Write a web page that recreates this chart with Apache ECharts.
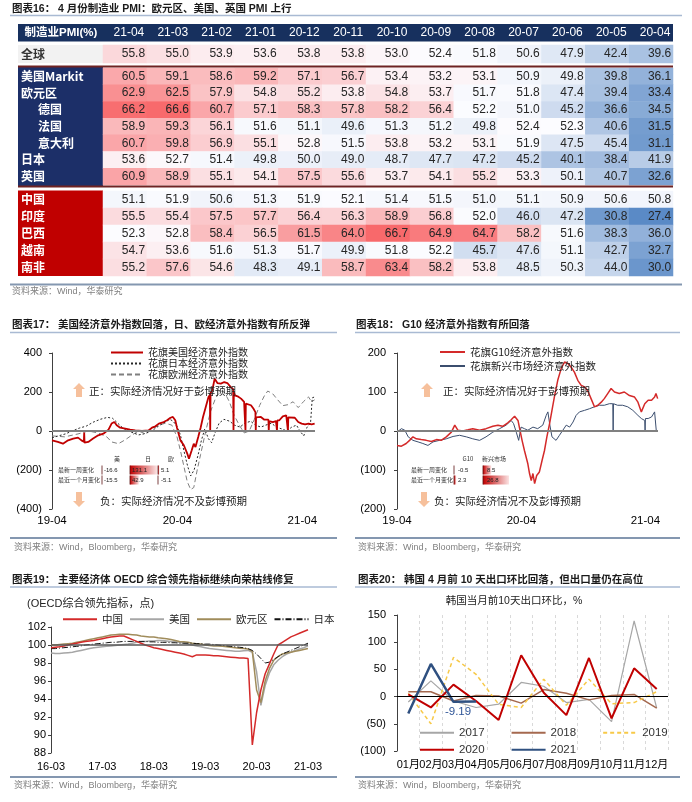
<!DOCTYPE html>
<html><head><meta charset="utf-8">
<script src="https://cdn.jsdelivr.net/npm/echarts/dist/echarts.min.js"></script>
<style>html,body{margin:0;padding:0;background:#fff}#c{width:692px;height:802px}</style>
</head><body><div id="c"></div>
<script>
// ---------------- DATA ----------------
const pmiCols = ['21-04','21-03','21-02','21-01','20-12','20-11','20-10','20-09','20-08','20-07','20-06','20-05','20-04'];
const pmiRowsGlobal = ['全球'];
const pmiRowsDM = ['美国Markit','欧元区','德国','法国','意大利','日本','英国'];
const pmiRowsEM = ['中国','印度','巴西','越南','南非'];
const pmiGlobal = [[55.8,55.0,53.9,53.6,53.8,53.8,53.0,52.4,51.8,50.6,47.9,42.4,39.6]];
const pmiDM = [
 [60.5,59.1,58.6,59.2,57.1,56.7,53.4,53.2,53.1,50.9,49.8,39.8,36.1],
 [62.9,62.5,57.9,54.8,55.2,53.8,54.8,53.7,51.7,51.8,47.4,39.4,33.4],
 [66.2,66.6,60.7,57.1,58.3,57.8,58.2,56.4,52.2,51.0,45.2,36.6,34.5],
 [58.9,59.3,56.1,51.6,51.1,49.6,51.3,51.2,49.8,52.4,52.3,40.6,31.5],
 [60.7,59.8,56.9,55.1,52.8,51.5,53.8,53.2,53.1,51.9,47.5,45.4,31.1],
 [53.6,52.7,51.4,49.8,50.0,49.0,48.7,47.7,47.2,45.2,40.1,38.4,41.9],
 [60.9,58.9,55.1,54.1,57.5,55.6,53.7,54.1,55.2,53.3,50.1,40.7,32.6]];
const pmiEM = [
 [51.1,51.9,50.6,51.3,51.9,52.1,51.4,51.5,51.0,51.1,50.9,50.6,50.8],
 [55.5,55.4,57.5,57.7,56.4,56.3,58.9,56.8,52.0,46.0,47.2,30.8,27.4],
 [52.3,52.8,58.4,56.5,61.5,64.0,66.7,64.9,64.7,58.2,51.6,38.3,36.0],
 [54.7,53.6,51.6,51.3,51.7,49.9,51.8,52.2,45.7,47.6,51.1,42.7,32.7],
 [55.2,57.6,54.6,48.3,49.1,58.7,63.4,58.2,53.8,48.5,50.3,44.0,30.0]];

// Fig 17: Citi economic surprise indices
const cesiUS = [['2019-04-01',-48],['2019-04-18',-56],['2019-05-03',-65],['2019-05-18',-48],['2019-06-02',-39],['2019-06-16',-34],['2019-06-26',-48],['2019-07-03',-55],['2019-07-04',-8],['2019-07-05',-60],['2019-07-16',-56],['2019-07-30',-39],['2019-08-14',-22],['2019-08-29',-14],['2019-09-13',7],['2019-09-22',38],['2019-09-30',46],['2019-10-07',29],['2019-10-17',17],['2019-11-01',12],['2019-11-15',7],['2019-11-30',3],['2019-12-20',0],['2020-01-08',3],['2020-01-18',17],['2020-01-28',24],['2020-02-07',38],['2020-02-21',46],['2020-03-02',55],['2020-03-12',68],['2020-03-19',72],['2020-03-26',55],['2020-03-31',17],['2020-04-10',-48],['2020-04-20',-73],['2020-04-30',-116],['2020-05-05',-142],['2020-05-13',-99],['2020-05-19',-65],['2020-05-24',-82],['2020-06-01',-31],['2020-06-08',17],['2020-06-15',72],['2020-06-23',123],['2020-07-01',174],['2020-07-05',185],['2020-07-06',0],['2020-07-07',195],['2020-07-12',208],['2020-07-19',268],['2020-07-27',246],['2020-08-06',243],['2020-08-16',251],['2020-08-25',246],['2020-09-04',225],['2020-09-11',215],['2020-09-12',0],['2020-09-13',200],['2020-09-16',183],['2020-09-24',178],['2020-10-04',166],['2020-10-13',149],['2020-10-16',145],['2020-10-17',0],['2020-10-18',140],['2020-10-23',140],['2020-11-02',132],['2020-11-09',115],['2020-11-15',97],['2020-11-16',0],['2020-11-17',70],['2020-11-19',68],['2020-12-01',72],['2020-12-11',58],['2020-12-23',58],['2020-12-24',0],['2020-12-25',50],['2021-01-05',46],['2021-01-14',51],['2021-01-16',52],['2021-01-17',0],['2021-01-18',55],['2021-01-24',55],['2021-02-03',75],['2021-02-13',80],['2021-02-17',78],['2021-02-18',0],['2021-02-19',70],['2021-02-23',68],['2021-03-10',68],['2021-03-20',46],['2021-03-30',38],['2021-04-09',34],['2021-04-19',38],['2021-04-28',34],['2021-05-07',38]];
const cesiJP = [['2019-04-01',-35],['2019-04-20',-25],['2019-05-10',-15],['2019-05-30',0],['2019-06-20',15],['2019-07-10',25],['2019-07-30',45],['2019-08-20',60],['2019-09-10',70],['2019-09-25',65],['2019-10-10',40],['2019-10-25',15],['2019-11-10',0],['2019-11-25',-10],['2019-12-10',-20],['2019-12-25',-15],['2020-01-10',-5],['2020-01-25',10],['2020-02-10',30],['2020-02-25',45],['2020-03-10',60],['2020-03-20',50],['2020-04-01',20],['2020-04-10',-20],['2020-04-20',-100],['2020-05-01',-180],['2020-05-10',-230],['2020-05-20',-200],['2020-06-01',-120],['2020-06-10',-50],['2020-06-20',10],['2020-07-01',-40],['2020-07-10',-60],['2020-07-20',-10],['2020-08-01',40],['2020-08-15',60],['2020-09-01',50],['2020-09-15',30],['2020-10-01',20],['2020-10-15',40],['2020-11-01',50],['2020-11-15',30],['2020-12-01',20],['2020-12-15',30],['2021-01-01',40],['2021-01-15',20],['2021-02-01',10],['2021-02-15',0],['2021-03-01',20],['2021-03-15',30],['2021-03-25',0],['2021-04-05',-25],['2021-04-15',20],['2021-04-25',40],['2021-04-30',170],['2021-05-07',175]];
const cesiEU = [['2019-04-01',-25],['2019-05-08',-30],['2019-06-16',-15],['2019-07-16',0],['2019-08-14',-10],['2019-09-08',-30],['2019-09-22',-56],['2019-10-12',-65],['2019-11-01',-45],['2019-11-21',-20],['2019-12-10',0],['2019-12-30',-15],['2020-01-18',10],['2020-02-07',30],['2020-02-26',40],['2020-03-16',30],['2020-03-31',-30],['2020-04-10',-100],['2020-04-20',-180],['2020-04-30',-260],['2020-05-10',-300],['2020-05-19',-290],['2020-05-29',-200],['2020-06-08',-120],['2020-06-23',0],['2020-07-07',100],['2020-07-22',170],['2020-08-06',205],['2020-08-16',200],['2020-08-31',150],['2020-09-14',80],['2020-09-29',30],['2020-10-13',-10],['2020-10-28',0],['2020-11-12',60],['2020-11-27',130],['2020-12-11',180],['2020-12-21',205],['2021-01-05',190],['2021-01-19',160],['2021-02-03',130],['2021-02-18',135],['2021-03-05',150],['2021-03-20',120],['2021-04-04',150],['2021-04-19',175],['2021-04-28',150],['2021-05-07',160]];
const cesiTicks = ['2019-04-01','2020-04-01','2021-04-01'];
const inset17Head = ['美','日','欧'];
const inset17Rows = ['最新一周变化','最近一个月变化'];
const inset17Vals = [[-16.6,131.1,5.1],[-15.5,42.9,-5.1]];

// Fig 18
const cesiG10 = [['2019-04-01',-37],['2019-04-14',-39],['2019-04-28',-32],['2019-05-08',-24],['2019-05-18',-15],['2019-05-28',-20],['2019-06-11',-22],['2019-06-26',-24],['2019-07-11',-27],['2019-07-26',-22],['2019-08-09',-24],['2019-08-24',-15],['2019-09-08',-3],['2019-09-18',15],['2019-09-27',2],['2019-10-12',0],['2019-10-27',3],['2019-11-10',6],['2019-11-30',2],['2019-12-19',6],['2020-01-08',12],['2020-01-23',15],['2020-02-06',12],['2020-02-21',21],['2020-03-02',29],['2020-03-12',38],['2020-03-22',27],['2020-03-26',10],['2020-04-03',-24],['2020-04-10',-50],['2020-04-20',-84],['2020-04-25',-109],['2020-04-30',-127],['2020-05-05',-109],['2020-05-10',-135],['2020-05-16',-114],['2020-05-24',-105],['2020-06-01',-75],['2020-06-08',-50],['2020-06-15',-15],['2020-06-23',19],['2020-06-30',53],['2020-07-07',87],['2020-07-17',130],['2020-07-27',160],['2020-08-06',177],['2020-08-16',173],['2020-08-25',164],['2020-09-04',151],['2020-09-14',130],['2020-09-24',117],['2020-10-04',113],['2020-10-13',104],['2020-10-23',83],['2020-11-02',62],['2020-11-12',66],['2020-11-22',74],['2020-12-01',83],['2020-12-11',96],['2020-12-21',109],['2020-12-31',100],['2021-01-14',96],['2021-01-29',100],['2021-02-13',91],['2021-02-28',87],['2021-03-10',74],['2021-03-20',49],['2021-03-30',70],['2021-04-09',79],['2021-04-19',79],['2021-04-28',87],['2021-05-02',96],['2021-05-07',83]];
const cesiEM = [['2019-04-01',-3],['2019-04-14',6],['2019-04-24',2],['2019-05-04',-15],['2019-05-18',-24],['2019-06-02',-28],['2019-06-16',-32],['2019-07-01',-37],['2019-07-16',-28],['2019-08-04',-24],['2019-08-24',-20],['2019-09-13',-14],['2019-10-02',-11],['2019-10-22',-15],['2019-11-10',-20],['2019-11-30',-24],['2019-12-19',-15],['2020-01-08',-3],['2020-01-28',6],['2020-02-16',15],['2020-03-02',27],['2020-03-09',19],['2020-03-17',-3],['2020-03-24',-24],['2020-03-31',10],['2020-04-10',6],['2020-04-20',2],['2020-05-05',10],['2020-05-19',6],['2020-06-03',15],['2020-06-13',40],['2020-06-18',49],['2020-06-23',19],['2020-06-30',-15],['2020-07-12',-24],['2020-07-22',-11],['2020-08-01',2],['2020-08-11',15],['2020-08-21',10],['2020-08-31',23],['2020-09-09',40],['2020-09-19',49],['2020-10-04',53],['2020-10-18',57],['2020-11-02',62],['2020-11-17',66],['2020-12-01',66],['2020-12-16',70],['2020-12-26',70],['2020-12-27',0],['2020-12-28',70],['2021-01-09',66],['2021-01-24',66],['2021-02-08',62],['2021-02-23',53],['2021-03-10',40],['2021-03-20',32],['2021-03-30',27],['2021-03-31',0],['2021-04-01',32],['2021-04-09',32],['2021-04-19',36],['2021-04-28',49],['2021-05-02',51],['2021-05-03',0]];
const inset18Head = ['G10','新兴市场'];
const inset18Rows = ['最新一周变化','最近一个月变化'];
const inset18Vals = [[-0.5,8.5],[2.3,26.8]];

// Fig 19: OECD CLI, monthly 2016-03 .. 2021-03
const cliStart = [2016, 3], cliEnd = [2021, 3];
const cliCN = [99.7,99.75,99.8,99.9,100.0,100.1,100.2,100.3,100.4,100.45,100.5,100.6,100.7,100.8,100.9,100.95,101.0,101.0,100.8,100.6,100.4,100.2,100.0,99.85,99.7,99.6,99.5,99.4,99.3,99.2,99.1,99.0,98.85,98.7,98.9,98.9,98.9,98.85,98.8,98.8,98.75,98.7,98.65,98.6,98.55,98.55,98.5,88.9,92.5,95.0,96.8,97.9,99.0,100.0,100.3,100.6,100.9,101.1,101.3,101.5,101.7];
const cliUS = [99.1,99.05,99.05,99.1,99.15,99.2,99.3,99.4,99.5,99.6,99.7,99.75,99.8,99.85,99.9,99.95,100.0,100.05,100.1,100.2,100.3,100.35,100.4,100.45,100.45,100.5,100.5,100.45,100.4,100.35,100.3,100.2,100.1,100.0,99.9,99.8,99.7,99.6,99.55,99.5,99.45,99.4,99.35,99.3,99.3,99.35,99.4,99.2,97.0,93.3,95.5,96.9,97.8,98.3,98.7,99.0,99.2,99.4,99.55,99.7,99.9];
const cliEA = [100.0,100.0,100.05,100.1,100.15,100.2,100.3,100.4,100.5,100.6,100.7,100.8,100.9,101.0,101.1,101.15,101.2,101.2,101.2,101.15,101.1,101.0,100.95,100.9,100.9,100.8,100.75,100.7,100.6,100.5,100.4,100.35,100.3,100.2,100.15,100.1,100.0,99.95,99.9,99.9,99.85,99.8,99.75,99.7,99.65,99.6,99.55,99.3,95.0,93.6,96.0,97.4,98.3,98.7,99.0,99.1,99.2,99.3,99.4,99.5,99.6];
const cliJP = [99.6,99.6,99.65,99.7,99.75,99.8,99.85,99.9,100.0,100.05,100.1,100.15,100.2,100.25,100.3,100.3,100.35,100.4,100.4,100.4,100.4,100.4,100.4,100.35,100.35,100.3,100.3,100.3,100.25,100.25,100.2,100.2,100.2,100.2,100.15,100.15,100.1,100.1,100.05,100.0,99.95,99.9,99.85,99.8,99.75,99.7,99.6,99.4,99.0,98.5,98.0,98.1,98.4,98.7,99.0,99.2,99.4,99.6,99.8,100.0,100.2];

// Fig 20: Korea first-10-day exports, m/m %
const krMonths = ['01月','02月','03月','04月','05月','06月','07月','08月','09月','10月','11月','12月'];
const kr2017 = [-10,29,-8,-20,-14,26,19,-11,-5,-46,139,-21];
const kr2018 = [9,9,-8,2,1,-12,13,6,-6,2,4,-21];
const kr2019 = [6,-50,72,41,-14,-20,32,-16,32,-13,-11,9];
const kr2020 = [4,-20,22,-8,-43,76,7,-34,71,-40,52,14];
const kr2021 = [-31,60,-9.6,-9.19];

// ---------------- BUILD ----------------
const LAT = '"Liberation Sans", Arial, "Noto Sans CJK SC", sans-serif';
const CJK = '"Noto Sans CJK SC", "Liberation Sans", sans-serif';
const pd = s => echarts.number.parseDate(s).getTime();

const allPmi = [].concat(...pmiGlobal, ...pmiDM, ...pmiEM);
const sorted = allPmi.slice().sort((a,b)=>a-b);
const pMin = sorted[0], pMax = sorted[sorted.length-1];
const pMid = (sorted[Math.floor((sorted.length-1)/2)] + sorted[Math.ceil((sorted.length-1)/2)])/2;
function mix(c1, c2, t){ return 'rgb(' + c1.map((v,i)=>Math.round(v+(c2[i]-v)*t)).join(',') + ')'; }
const WHITE=[252,252,255], RED=[248,105,107], BLUE=[90,138,198];
function cellColor(v){ return v>=pMid ? mix(WHITE,RED,(v-pMid)/(pMax-pMid)) : mix(WHITE,BLUE,(pMid-v)/(pMid-pMin)); }
function heat(rows){ const d=[]; rows.forEach((r,ri)=>r.forEach((v,ci)=>d.push({value:[ci,ri,v], itemStyle:{color:cellColor(v)}}))); return d; }

const negFmt = v => v<0 ? '('+(-v)+')' : String(v);
const cliCats = []; { let y=cliStart[0], m=cliStart[1]; while (y<cliEnd[0] || (y===cliEnd[0] && m<=cliEnd[1])) { cliCats.push(String(y).slice(2)+'-'+String(m).padStart(2,'0')); m++; if(m>12){m=1;y++;} } }
const tsData = arr => arr.map(p=>[pd(p[0]), p[1]]);
const timeFmt = v => { const d=new Date(v); return String(d.getFullYear()).slice(2)+'-'+String(d.getMonth()+1).padStart(2,'0'); };

const indentRows = {'德国':1,'法国':1,'意大利':1};
function tableY(gi, rows, color){
  return {gridIndex:gi, type:'category', data:rows, inverse:true, z:5,
    axisLine:{show:false}, axisTick:{show:false},
    axisLabel:{align:'left', margin:82, color:color, fontWeight:'bold', fontSize:12, fontFamily:CJK,
      formatter: v => indentRows[v] ? '{i|'+v+'}' : v,
      rich:{i:{padding:[0,0,0,17], color:color, fontWeight:'bold', fontSize:12, fontFamily:CJK}}}};
}
function tableX(gi, show){
  return {gridIndex:gi, type:'category', data:pmiCols, position:'top', z:5,
    axisLine:{show:false}, axisTick:{show:false}, splitLine:{show:false},
    axisLabel:{show:show, color:'#fff', fontSize:12, fontFamily:LAT, margin:12, verticalAlign:'middle', padding:[0,0,0,8]}};
}
function heatSeries(gi, rows){
  return {type:'heatmap', xAxisIndex:gi, yAxisIndex:gi, data:heat(rows), emphasis:{disabled:true},
    label:{show:true, position:'insideRight', distance:2, color:'#262626', fontSize:12, fontFamily:LAT,
      formatter:p=>p.value[2].toFixed(1)}};
}
const zeroMark = (val, color, w) => ({silent:true, symbol:['none','none'], label:{show:false}, animation:false,
  lineStyle:{color:color, width:w, type:'solid'}, emphasis:{disabled:true}, data:[{yAxis:val}]});

function valAxis(gi, min, max, step, margin, fmt){
  return {gridIndex:gi, type:'value', min:min, max:max, interval:step,
    axisLine:{show:true, lineStyle:{color:'#404040', width:1}}, axisTick:{show:true, length:3, lineStyle:{color:'#404040'}},
    splitLine:{show:false}, axisLabel:{color:'#000', fontSize:11, fontFamily:LAT, margin:margin, formatter:fmt}};
}
function timeAxis(gi){
  return {gridIndex:gi, type:'value', min:pd('2019-04-01'), max:pd('2021-05-08'),
    axisLine:{show:false}, axisTick:{show:false}, splitLine:{show:false},
    axisLabel:{customValues:cesiTicks.map(pd), formatter:timeFmt, color:'#000', fontSize:11.5, fontFamily:LAT, margin:6, showMinLabel:true, showMaxLabel:true}};
}

// graphic helpers
const G = [];
const txt = (x,y,t,o={}) => G.push({type:'text', x:x, y:y, z:o.z||20, style:{text:t, fill:o.c||'#1a1a1a', font:(o.w||'normal')+' '+(o.s||11)+'px '+(o.f||CJK), align:o.a||'left', verticalAlign:'middle'}});
const ln = (x1,y1,x2,y2,c,w,z) => G.push({type:'line', z:z||20, shape:{x1,y1,x2,y2}, style:{stroke:c, lineWidth:w}});
const rc = (x,y,w,h,fill,z) => G.push({type:'rect', z:z===undefined?-1:z, shape:{x,y,width:w,height:h}, style:{fill:fill}});
const poly = (pts,fill) => G.push({type:'polygon', z:20, shape:{points:pts}, style:{fill:fill}});

// table decorations
txt(12,9,'图表16： 4 月份制造业 PMI：欧元区、美国、英国 PMI 上行',{w:'bold',s:10.5,f:LAT});
ln(10,15.5,682,15.5,'#A9BAD3',1.5);
rc(18,24,655,17.5,'#17305E');
txt(61,33,'制造业PMI(%)',{w:'bold',s:11.5,c:'#fff',a:'center',f:LAT});
rc(18,45,85,18,'#F2F2F2');
rc(18,67,85,120,'#1C2F68');
rc(18,190.5,85,85.5,'#C00000');
ln(18,66.5,673,66.5,'#6E2323',2);
ln(18,186.5,673,186.5,'#6E2323',2);
ln(10,284.5,682,284.5,'#8497B0',2);
txt(12,292,'资料来源：Wind，华泰研究',{s:9,c:'#808080',f:LAT});

// panel frames
[[10,337,12],[355,680,356]].forEach(([a,b,tx],i)=>{
  ln(a,332.5,b,332.5,'#A9BAD3',1.5); ln(a,538,b,538,'#8497B0',2);
  txt(tx+2,548,'资料来源：Wind，Bloomberg，华泰研究',{s:9,c:'#808080',f:LAT});
  ln(a,587,b,587,'#A9BAD3',1.5); ln(a,777,b,777,'#8497B0',2);
  txt(tx+2,786,'资料来源：Wind，Bloomberg，华泰研究',{s:9,c:'#808080',f:LAT});
});
txt(12,325,'图表17： 美国经济意外指数回落，日、欧经济意外指数有所反弹',{w:'bold',s:10.5,f:LAT});
txt(356,325,'图表18： G10 经济意外指数有所回落',{w:'bold',s:10.5,f:LAT});
txt(12,580,'图表19： 主要经济体 OECD 综合领先指标继续向荣枯线修复',{w:'bold',s:10.5,f:LAT});
txt(358,580,'图表20： 韩国 4 月前 10 天出口环比回落，但出口量仍在高位',{w:'bold',s:10.5,f:LAT});

// arrows & notes
const ARW = '#F6C09C';
const upArrow = (cx,top) => poly([[cx,top],[cx+6,top+6],[cx+3,top+6],[cx+3,top+14],[cx-3,top+14],[cx-3,top+6],[cx-6,top+6]],ARW);
const dnArrow = (cx,top) => poly([[cx,top+15],[cx+6,top+9],[cx+3,top+9],[cx+3,top],[cx-3,top],[cx-3,top+9],[cx-6,top+9]],ARW);
upArrow(79,383); dnArrow(79,492);
txt(89,391,'正：实际经济情况好于彭博预期',{s:10.5,c:'#222'});
txt(100,501,'负：实际经济情况不及彭博预期',{s:10.5,c:'#222'});
upArrow(427,383); dnArrow(424,492);
txt(443,391,'正：实际经济情况好于彭博预期',{s:10.5,c:'#222'});
txt(434,501,'负：实际经济情况不及彭博预期',{s:10.5,c:'#222'});

function inset(head, headX, rows, rowX, vals, valX, barX, fullW, maxV){
  head.forEach((h,i)=>txt(headX[i],459,h,{s:6,a:'center',c:'#333'}));
  rows.forEach((r,ri)=>{
    const y = 470 + ri*10;
    txt(rowX,y,r,{s:6,c:'#333'});
    vals[ri].forEach((v,ci)=>{
      if (v>0) G.push({type:'rect', z:15, shape:{x:barX[ci], y:y-4.5, width:Math.max(1.5, v/maxV*fullW), height:9},
        style:{fill:{type:'linear',x:0,y:0,x2:1,y2:0,colorStops:[{offset:0,color:'#C00000'},{offset:1,color:'#FBE3E3'}]}}});
      ln(barX[ci],y-4.5,barX[ci],y+4.5,'#5a1010',0.8,16);
      txt(valX[ci],y,String(v.toFixed(1)),{s:6,c:'#222',f:LAT,z:21});
    });
  });
}
inset(inset17Head,[117,148,171],inset17Rows,58,inset17Vals,[104,132,161],[102,130,158],27,131.1);
inset(inset18Head,[468,494],inset18Rows,411,inset18Vals,[458,487],[454,483],26,26.8);

txt(27,604,'(OECD综合领先指标，点)',{s:11,c:'#222',f:LAT});
txt(514,601,'韩国当月前10天出口环比，%',{s:10.5,c:'#222',a:'center',f:LAT});

const noSym = {opacity:0, borderWidth:0};
const option = {
  animation:false,
  textStyle:{fontFamily:LAT},
  grid:[
    {left:103, top:45, width:570, height:18},
    {left:103, top:68, width:570, height:117},
    {left:103, top:191, width:570, height:85},
    {left:52, top:353, width:263, height:156},
    {left:397, top:353, width:261, height:156},
    {left:51, top:627, width:257, height:126},
    {left:397, top:615, width:271, height:136}
  ],
  xAxis:[
    tableX(0,true), tableX(1,false), tableX(2,false),
    timeAxis(3), timeAxis(4),
    {gridIndex:5, type:'category', data:cliCats, boundaryGap:false,
      axisLine:{show:false}, axisTick:{show:false}, splitLine:{show:false},
      axisLabel:{interval:11, color:'#000', fontSize:11, fontFamily:LAT, margin:8}},
    {gridIndex:6, type:'category', data:krMonths, boundaryGap:true,
      axisLine:{show:false}, axisTick:{show:false},
      splitLine:{show:true, interval:0, lineStyle:{color:'#D9D9D9', type:[3,3], width:1}},
      axisLabel:{interval:0, color:'#000', fontSize:11, fontFamily:LAT, margin:8}}
  ],
  yAxis:[
    tableY(0,pmiRowsGlobal,'#333'), tableY(1,pmiRowsDM,'#fff'), tableY(2,pmiRowsEM,'#fff'),
    valAxis(3,-400,400,200,10,negFmt),
    valAxis(4,-200,200,100,11,negFmt),
    valAxis(5,88,102,2,5,v=>String(v)),
    valAxis(6,-100,150,50,11,negFmt)
  ],
  legend:[
    {data:['花旗美国经济意外指数','花旗日本经济意外指数','花旗欧洲经济意外指数'], orient:'vertical', left:105, top:342, itemWidth:32, itemHeight:8, itemGap:0, selectedMode:false, itemStyle:noSym,
      textStyle:{fontSize:10, lineHeight:11, color:'#222', fontFamily:CJK}},
    {data:['花旗G10经济意外指数','花旗新兴市场经济意外指数'], orient:'vertical', left:434, top:341, itemWidth:25, itemHeight:8, itemGap:2, selectedMode:false, itemStyle:noSym,
      textStyle:{fontSize:10.5, lineHeight:12, color:'#222', fontFamily:CJK}},
    {data:['中国','美国','欧元区','日本'], left:57, top:609, itemWidth:34, itemHeight:10, itemGap:6, selectedMode:false, itemStyle:noSym,
      textStyle:{fontSize:10.5, color:'#222', fontFamily:CJK}},
    {data:['2017','2018','2019'], left:414, top:722, itemWidth:34, itemHeight:10, itemGap:26, selectedMode:false, itemStyle:noSym,
      textStyle:{fontSize:11.5, color:'#333', fontFamily:LAT}},
    {data:['2020','2021'], left:414, top:739, itemWidth:34, itemHeight:10, itemGap:26, selectedMode:false, itemStyle:noSym,
      textStyle:{fontSize:11.5, color:'#333', fontFamily:LAT}}
  ],
  graphic:{elements:G},
  series:[
    heatSeries(0,pmiGlobal), heatSeries(1,pmiDM), heatSeries(2,pmiEM),
    {type:'line', name:'花旗欧洲经济意外指数', xAxisIndex:3, yAxisIndex:3, data:tsData(cesiEU), symbol:'none',
      lineStyle:{color:'#7F7F7F', width:1, type:[5,3]}, itemStyle:{color:'#7F7F7F'}, markLine:zeroMark(0,'#808080',2)},
    {type:'line', name:'花旗日本经济意外指数', xAxisIndex:3, yAxisIndex:3, data:tsData(cesiJP), symbol:'none',
      lineStyle:{color:'#262626', width:1, type:[2,2]}, itemStyle:{color:'#262626'}},
    {type:'line', name:'花旗美国经济意外指数', xAxisIndex:3, yAxisIndex:3, data:tsData(cesiUS), symbol:'none',
      lineStyle:{color:'#C00000', width:1.8}, itemStyle:{color:'#C00000'}},
    {type:'line', name:'花旗新兴市场经济意外指数', xAxisIndex:4, yAxisIndex:4, data:tsData(cesiEM), symbol:'none',
      lineStyle:{color:'#3B4E6E', width:1}, itemStyle:{color:'#3B4E6E'}, markLine:zeroMark(0,'#808080',2)},
    {type:'line', name:'花旗G10经济意外指数', xAxisIndex:4, yAxisIndex:4, data:tsData(cesiG10), symbol:'none',
      lineStyle:{color:'#D42A2A', width:1.5}, itemStyle:{color:'#D42A2A'}},
    {type:'line', name:'美国', xAxisIndex:5, yAxisIndex:5, data:cliUS, symbol:'none',
      lineStyle:{color:'#A6A6A6', width:1.5}, itemStyle:{color:'#A6A6A6'}, markLine:zeroMark(100,'#595959',1.5)},
    {type:'line', name:'欧元区', xAxisIndex:5, yAxisIndex:5, data:cliEA, symbol:'none',
      lineStyle:{color:'#A08C5B', width:1.5}, itemStyle:{color:'#A08C5B'}},
    {type:'line', name:'日本', xAxisIndex:5, yAxisIndex:5, data:cliJP, symbol:'none',
      lineStyle:{color:'#111', width:1, type:[6,2,1,2]}, itemStyle:{color:'#111'}},
    {type:'line', name:'中国', xAxisIndex:5, yAxisIndex:5, data:cliCN, symbol:'none',
      lineStyle:{color:'#D42A2A', width:1.5}, itemStyle:{color:'#D42A2A'}},
    {type:'line', name:'2017', xAxisIndex:6, yAxisIndex:6, data:kr2017, symbol:'none',
      lineStyle:{color:'#A6A6A6', width:1.2}, itemStyle:{color:'#A6A6A6'}, markLine:zeroMark(0,'#000',1)},
    {type:'line', name:'2018', xAxisIndex:6, yAxisIndex:6, data:kr2018, symbol:'none',
      lineStyle:{color:'#A5694F', width:1.5}, itemStyle:{color:'#A5694F'}},
    {type:'line', name:'2019', xAxisIndex:6, yAxisIndex:6, data:kr2019, symbol:'none',
      lineStyle:{color:'#F7C948', width:1.5, type:[4,3]}, itemStyle:{color:'#F7C948'}},
    {type:'line', name:'2020', xAxisIndex:6, yAxisIndex:6, data:kr2020, symbol:'none',
      lineStyle:{color:'#C00000', width:2}, itemStyle:{color:'#C00000'}},
    {type:'line', name:'2021', xAxisIndex:6, yAxisIndex:6, data:kr2021, symbol:'none',
      lineStyle:{color:'#2F5080', width:2.5}, itemStyle:{color:'#2F5080'},
      markPoint:{symbol:'circle', symbolSize:1, itemStyle:{color:'rgba(0,0,0,0)'}, silent:true,
        label:{show:true, position:'bottom', distance:4, offset:[-18,0], color:'#2F5597', fontSize:11.5, fontFamily:LAT, formatter:'-9.19'},
        data:[{coord:['04月', kr2021[3]], value:kr2021[3]}]}}
  ]
};
const chart = echarts.init(document.getElementById('c'), null, {renderer:'canvas'});
chart.setOption(option);
</script>
</body></html>
